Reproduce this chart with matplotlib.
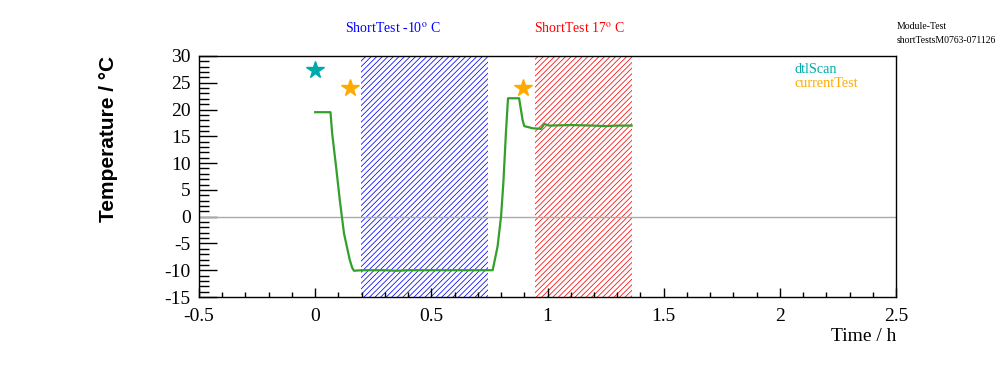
import matplotlib
matplotlib.use("Agg")
import matplotlib.pyplot as plt
import matplotlib.transforms as mtransforms
from matplotlib.ticker import MultipleLocator, FormatStrFormatter

plt.rcParams['font.family'] = ['Liberation Serif', 'DejaVu Serif']
plt.rcParams['mathtext.fontset'] = 'stix'
plt.rcParams['axes.unicode_minus'] = False
plt.rcParams['hatch.linewidth'] = 0.55

# temperature readout
time_h = [0, 0.066, 0.073, 0.090, 0.106, 0.115, 0.124, 0.149, 0.160, 0.167,
          0.20, 0.30, 0.35, 0.40, 0.50, 0.60, 0.70, 0.764,
          0.785, 0.80, 0.81, 0.821, 0.83, 0.878, 0.881, 0.893, 0.90,
          0.936, 0.972, 0.986, 1.007, 1.10, 1.20, 1.25, 1.30, 1.362]
temp_c = [19.5, 19.5, 15.6, 9.3, 3.1, 0.0, -3.1, -8.1, -9.6, -10.1,
          -10.0, -10.0, -10.1, -10.0, -10.0, -10.0, -10.0, -10.0,
          -5.6, 0.0, 6.3, 15.6, 22.1, 22.1, 21.2, 18.0, 16.9,
          16.5, 16.4, 17.3, 17.0, 17.1, 17.0, 16.9, 17.0, 17.0]

# test periods
span_names = ["ShortTest -10$^{\\rm o}$ C", "ShortTest 17$^{\\rm o}$ C"]
span_start = [0.196, 0.947]
span_end = [0.745, 1.362]
span_label_t = [0.128, 0.944]
span_colors = ["blue", "red"]

# markers for scans
dtl_t = [0.0]
dtl_T = [27.3]
cur_t = [0.149, 0.896]
cur_T = [24.0, 24.0]

fig = plt.figure(figsize=(9.96, 3.72), dpi=100)
ax = fig.add_axes([0.1998, 0.2016, 0.6998, 0.648])
ax.set_xlim(-0.5, 2.5)
ax.set_ylim(-15, 30)

# x in data, y in figure fraction for the period titles
title_trans = mtransforms.blended_transform_factory(ax.transData, fig.transFigure)
for name, a, b, lt, c in zip(span_names, span_start, span_end, span_label_t, span_colors):
    ax.axvspan(a, b, facecolor="none", edgecolor=c, hatch="//////", linewidth=0)
    ax.text(lt, 0.925, name, color=c, fontsize=10,
            ha="left", va="center", transform=title_trans)

ax.axhline(0, color="#aaaaaa", lw=1)
ax.plot(time_h, temp_c, color="#33a02c", lw=1.6)
ax.plot(dtl_t, dtl_T, ls="none", marker="*", ms=13, color="#00aaaa", mec="#00aaaa")
ax.plot(cur_t, cur_T, ls="none", marker="*", ms=13, color="#ffaa00", mec="#ffaa00")

ax.xaxis.set_major_locator(MultipleLocator(0.5))
ax.xaxis.set_minor_locator(MultipleLocator(0.1))
ax.yaxis.set_major_locator(MultipleLocator(5))
ax.yaxis.set_minor_locator(MultipleLocator(1))
ax.xaxis.set_major_formatter(FormatStrFormatter("%g"))
ax.yaxis.set_major_formatter(FormatStrFormatter("%g"))
ax.tick_params(which="both", direction="in", labelsize=14, top=False, right=False, width=1)
ax.tick_params(axis="x", which="major", length=6.5, pad=8)
ax.tick_params(axis="x", which="minor", length=3.5)
ax.tick_params(axis="y", which="major", length=13, pad=6)
ax.tick_params(axis="y", which="minor", length=7)
for s in ax.spines.values():
    s.set_linewidth(1)

ax.set_xlabel("Time / h", fontsize=14, ha="right", va="center")
ax.xaxis.set_label_coords(1.0, -0.163)
ax.text(-0.13, 1.0, "Temperature / °C", fontsize=15, fontweight="bold",
        family="Liberation Sans", rotation=90, ha="center", va="top",
        transform=ax.transAxes)

ax.text(0.854, 0.943, "dtlScan", color="#00aaaa", fontsize=10.3,
        transform=ax.transAxes, va="center")
ax.text(0.854, 0.885, "currentTest", color="#ffaa00", fontsize=10.3,
        transform=ax.transAxes, va="center")

fig.text(0.9, 0.93, "Module-Test", fontsize=7, va="center")
fig.text(0.9, 0.89, "shortTestsM0763-071126", fontsize=7, va="center")

fig.savefig("out.png", dpi=100)
